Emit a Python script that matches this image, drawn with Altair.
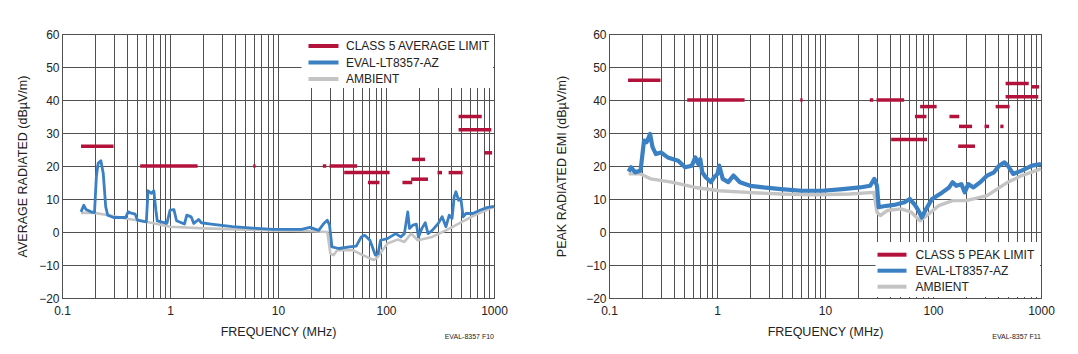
import altair as alt
import pandas as pd

FONT = "Liberation Sans, Arial, sans-serif"

SERIES_AVG = ["CLASS 5 AVERAGE LIMIT", "EVAL-LT8357-AZ", "AMBIENT"]
SERIES_PK = ["CLASS 5 PEAK LIMIT", "EVAL-LT8357-AZ", "AMBIENT"]
COLORS = ["#B3123B", "#3A80C3", "#C4C4C4"]

GRID_X = [0.1, 0.2, 0.3, 0.4, 0.5, 0.6, 0.7, 0.8, 0.9,
          1, 2, 3, 4, 5, 6, 7, 8, 9,
          10, 20, 30, 40, 50, 60, 70, 80, 90,
          100, 200, 300, 400, 500, 600, 700, 800, 900, 1000]
X_LABELS = ["0.1", "1", "10", "100", "1000"]
Y_TICKS = [-20, -10, 0, 10, 20, 30, 40, 50, 60]

# ---- Average chart (F10) ----
avg_lim_start = [0.15, 0.53, 5.9, 26, 30, 41, 68, 142, 171, 174, 300, 380, 470, 470, 820]
avg_lim_stop = [0.30, 1.8, 6.2, 28, 54, 108, 87, 175, 245, 230, 330, 512, 770, 944, 960]
avg_lim_level = [26, 20, 20, 20, 20, 18, 15, 15, 16, 22, 18, 18, 35, 31, 24]

avg_dut_f = [0.15, 0.159, 0.167, 0.186, 0.2, 0.208, 0.216, 0.229, 0.241, 0.254, 0.265, 0.3,
             0.388, 0.41, 0.43, 0.476, 0.5, 0.604, 0.626, 0.673, 0.708, 0.74, 0.762, 0.936,
             1.0, 1.087, 1.15, 1.36, 1.43, 1.57, 1.66, 1.84, 1.95, 2.4, 3.79, 6.3, 9.1,
             16.5, 19.7, 23.8, 26.3, 28.6, 30.0, 31.6, 36.6, 45.9, 53, 59, 63.6, 71, 79.6,
             84.5, 89, 103, 123, 137, 148, 159, 165, 178, 191, 200, 215, 231, 245, 268,
             305, 331, 359, 385, 409, 428, 444, 470, 493, 518, 550, 637, 740, 858, 1000]
avg_dut_v = [6.1, 8.1, 6.8, 6.1, 5.9, 16.7, 20.8, 21.6, 17.7, 7.6, 5.1, 4.4,
             4.4, 6.1, 5.8, 5.4, 3.6, 3.1, 12.5, 11.7, 12.5, 6.6, 3.4, 2.6,
             6.6, 6.8, 3.4, 2.4, 5.1, 4.6, 2.6, 3.8, 2.8, 2.4, 1.6, 1.1, 0.8,
             0.8, 1.4, 0.5, 2.4, 3.6, 2.1, -4.5, -5.0, -4.5, -4.3, -1.5, -1.0, -2.5, -7.0,
             -6.5, -2.5, -2.0, -0.5, -1.5, -0.5, 6.1, 1.1, 2.1, 2.4, -1.5, 1.1, 2.8, -0.5, 0.5,
             2.6, 4.6, 1.6, 5.1, 4.1, 10.7, 12.2, 9.6, 10.2, 4.6, 5.6, 5.6, 6.6, 7.4, 7.8]

avg_amb_f = [0.15, 0.2, 0.27, 0.39, 0.6, 1.0, 2.1, 4.2, 9.1, 18.9, 28.6, 30.6, 32.8, 35.3,
             49, 61, 76.7, 82.6, 103, 128, 148, 171, 197, 268, 359, 476, 637, 1000]
avg_amb_v = [5.8, 5.8, 5.1, 4.1, 3.1, 1.6, 1.1, 0.8, 0.5, 0.3, 0.0, -6.6, -7.0, -5.5,
             -5.5, -7.0, -8.5, -7.8, -3.5, -2.3, -3.0, -0.5, -2.5, -1.5, 0.5, 2.6, 4.8, 7.6]

# ---- Peak chart (F11) ----
pk_lim_start = [0.15, 0.53, 5.9, 26, 30, 41, 68, 76, 142, 174, 171, 300, 420, 380, 470, 470, 820]
pk_lim_stop = [0.30, 1.8, 6.2, 28, 54, 88, 87, 108, 175, 230, 245, 330, 450, 512, 770, 944, 960]
pk_lim_level = [46, 40, 40, 40, 40, 28, 35, 38, 35, 32, 26, 32, 32, 38, 45, 41, 44]

pk_dut_f = [0.152, 0.16, 0.175, 0.196, 0.211, 0.223, 0.24, 0.253, 0.272, 0.303, 0.35, 0.437,
            0.506, 0.585, 0.63, 0.67, 0.70, 0.73, 0.786, 0.88, 0.94, 1.01, 1.05, 1.13, 1.27,
            1.42, 1.63, 2.03, 2.7, 3.9, 6.1, 9.4, 14.6, 21, 26.2, 28.6, 30.3, 31.4, 35.0,
            43.6, 54.5, 60.9, 68, 73.4, 78.8, 84.8, 98, 122, 141, 152, 164, 183, 197, 212,
            237, 274, 317, 367, 410, 458, 493, 552, 663, 826, 1000]
pk_dut_v = [18.3, 19.6, 18.1, 18.6, 27.7, 27.2, 29.7, 25.7, 23.6, 24.1, 22.6, 21.6,
            19.6, 20.1, 22.6, 20.6, 22.1, 18.1, 16.6, 15.1, 16.6, 17.6, 20.1, 16.1, 15.1,
            17.1, 15.1, 14.0, 13.5, 13.0, 12.5, 12.5, 13.0, 13.5, 14.0, 16.1, 14.0, 7.5, 7.8,
            8.2, 9.0, 10.0, 8.2, 6.5, 4.4, 6.5, 10.0, 12.0, 13.5, 15.1, 14.0, 14.5, 12.0, 14.5,
            13.5, 15.1, 17.1, 18.1, 20.1, 21.1, 20.1, 17.6, 18.6, 20.1, 20.6]

pk_amb_f = [0.152, 0.196, 0.244, 0.38, 0.63, 1.05, 1.88, 3.9, 8.1, 16.9, 28.3, 30.3, 32.6,
            37.7, 50.6, 63, 75.8, 87.7, 113, 152, 203, 317, 493, 663, 1000]
pk_amb_v = [17.6, 17.6, 16.1, 15.1, 13.5, 12.5, 12.0, 11.5, 11.3, 11.5, 12.0, 6.0, 5.0,
            6.5, 7.0, 6.0, 3.4, 5.0, 8.0, 9.5, 9.5, 11.0, 15.1, 17.1, 19.1]

W, H = 432, 264


def legend_layers(series, box_x, box_y, sym_x0, sym_x1, text_x, row_y):
    """Hand-built legend: white box, line swatches and labels (pixel placement)."""
    one = pd.DataFrame({"k": [0]})
    layers = [alt.Chart(one).mark_rect(color="white").encode(
        x=alt.value(box_x[0]), x2=alt.value(box_x[1]),
        y=alt.value(box_y[0]), y2=alt.value(box_y[1]))]
    for name, col, yy in zip(series, COLORS, row_y):
        layers.append(alt.Chart(one).mark_rule(color=col, strokeWidth=4).encode(
            x=alt.value(sym_x0), x2=alt.value(sym_x1), y=alt.value(yy)))
        layers.append(alt.Chart(one).mark_text(
            text=name, align="left", baseline="middle", font=FONT, fontSize=12,
            color="#222").encode(x=alt.value(text_x), y=alt.value(yy)))
    return layers


def panel(series, lim, dut, amb, ytitle, ytitle_pad, leg, footer, dut_width, amb_width):
    lim_df = pd.DataFrame({"f1": lim[0], "f2": lim[1], "v": lim[2], "series": series[0]})
    dut_df = pd.DataFrame({"f": dut[0], "v": dut[1], "series": series[1]})
    amb_df = pd.DataFrame({"f": amb[0], "v": amb[1], "series": series[2]})

    xs = alt.Scale(type="log", domain=[0.1, 1000], nice=False)
    ys = alt.Scale(domain=[-20, 60], nice=False, zero=False)
    label_list = "[" + ",".join("'%s'" % s for s in X_LABELS) + "]"
    xaxis = alt.Axis(values=GRID_X, format="~g",
                     labelExpr="indexof(%s, datum.label) >= 0 ? datum.label : ''" % label_list,
                     labelOverlap=False, labelFlush=False, labelPadding=7,
                     title="FREQUENCY (MHz)", titlePadding=9)
    yaxis = alt.Axis(values=Y_TICKS, labelExpr="replace(datum.label, '-', '\u2212')",
                     labelOverlap=False, labelFlush=False, tickCount=9, labelPadding=3,
                     title=ytitle, titlePadding=ytitle_pad)
    color = alt.Color("series:N", scale=alt.Scale(domain=series, range=COLORS), legend=None)

    amb_layer = alt.Chart(amb_df).mark_line(strokeWidth=amb_width, strokeJoin="round").encode(
        x=alt.X("f:Q", scale=xs, axis=xaxis), y=alt.Y("v:Q", scale=ys, axis=yaxis), color=color)
    dut_layer = alt.Chart(dut_df).mark_line(strokeWidth=dut_width, strokeJoin="round").encode(
        x=alt.X("f:Q", scale=xs, axis=xaxis), y=alt.Y("v:Q", scale=ys, axis=yaxis), color=color)
    lim_layer = alt.Chart(lim_df).mark_rule(strokeWidth=3.5, strokeCap="butt").encode(
        x=alt.X("f1:Q", scale=xs, axis=xaxis), x2="f2:Q",
        y=alt.Y("v:Q", scale=ys, axis=yaxis), color=color)

    return alt.layer(amb_layer, dut_layer, lim_layer, *legend_layers(series, *leg)).properties(
        width=W, height=H,
        title=alt.TitleParams(footer, orient="bottom", anchor="end", frame="group", fontSize=7,
                              font=FONT, fontWeight="normal", color="#222", offset=-5),
    )


left = panel(SERIES_AVG, (avg_lim_start, avg_lim_stop, avg_lim_level),
             (avg_dut_f, avg_dut_v), (avg_amb_f, avg_amb_v),
             "AVERAGE RADIATED (dBµV/m)", 9,
             ((239.5, 431), (1, 54), 246.5, 276.5, 284, (12, 28.5, 45)),
             "EVAL-8357 F10", 2.8, 2.6)
right = panel(SERIES_PK, (pk_lim_start, pk_lim_stop, pk_lim_level),
              (pk_dut_f, pk_dut_v), (pk_amb_f, pk_amb_v),
              "PEAK RADIATED EMI (dBµV/m)", 17,
              ((266.5, 431), (208, 263), 268.5, 297.5, 306.5, (220.7, 236.7, 252.7)),
              "EVAL-8357 F11", 4.2, 3.4)

chart = alt.hconcat(left, right, spacing=47).resolve_scale(color="independent").properties(
    padding={"left": 16, "top": 27, "right": 5, "bottom": 5}
).configure(font=FONT).configure_view(stroke="#333", strokeWidth=1).configure_axis(
    labelFont=FONT, labelFontSize=12, labelColor="#222", titleFont=FONT, titleFontSize=12.5,
    titleFontWeight="normal", titleColor="#222", ticks=False, domain=False,
    gridColor="#505050", gridWidth=1, gridOpacity=1,
)

chart.save("out.html", embed_options={"renderer": "svg", "actions": False})
